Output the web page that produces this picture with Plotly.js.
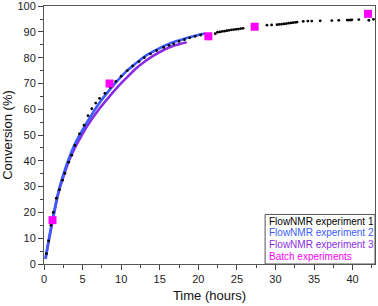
<!DOCTYPE html>
<html>
<head>
<meta charset="utf-8">
<script src="https://cdn.plot.ly/plotly-3.0.1.min.js"></script>
<style>html,body{margin:0;padding:0;background:#fff;}#chart{width:378px;height:306px;}</style>
</head>
<body>
<div id="chart"></div>
<script>
// FlowNMR experiment 1 (black dots)
const exp1Time = [0.3,0.6,0.9,1.2,1.6,2.0,2.4,2.7,3.2,3.6,4.0,4.6,5.2,5.7,6.2,6.7,7.2,7.9,8.6,9.3,10.0,10.8,11.5,12.3,13.0,13.8,14.6,15.5,16.2,16.8,17.5,18.2,18.9,19.6,20.3,22.2,22.5,22.8,23.1,23.4,23.7,24.0,24.3,24.6,24.9,25.2,25.5,25.8,28.9,29.5,30.2,30.5,30.8,31.1,31.4,31.7,32.0,32.3,32.6,32.8,33.6,34.2,34.7,35.8,37.3,38.2,39.3,39.5,39.7,39.9,40.8,42.1,42.7];
const exp1Conv = [4,9,15,20,25.5,28.8,32.5,35.2,39.5,42.2,46,50.5,53.8,57.5,60.2,62.4,64.2,66.2,68.5,70.8,72.8,75,76.8,78.5,80,81.5,82.8,84,84.8,85.4,86.3,87,87.7,88.3,88.8,89.3,89.9,90.0,90.2,90.3,90.5,90.6,90.8,90.9,91.0,91.1,91.3,91.4,92.6,92.7,92.8,92.9,93.0,93.1,93.2,93.4,93.5,93.6,93.7,93.8,94.1,94.2,94.2,94.3,94.4,94.5,94.6,94.6,94.6,94.7,94.8,94.5,94.9];
// FlowNMR experiment 2 (blue line)
const exp2Time = [0.2,0.5,1.0,1.5,2.0,2.7,3.3,4.0,5.0,6.0,7.2,8.5,9.5,10.7,12.0,13.2,14.2,15.5,17.0,18.5,20.0,20.9];
const exp2Conv = [2,7.5,15.5,23,29.5,36.5,41.5,46.5,52,57,62.5,67.5,71,74.8,78,80.8,82.5,84.5,86.3,87.6,88.8,89.4];
// FlowNMR experiment 3 (purple line)
const exp3Time = [0.2,0.5,1.0,1.5,2.0,2.7,3.3,4.0,5.0,6.0,7.2,8.5,9.5,10.7,12.0,13.2,14.2,15.5,17.0,18.5];
const exp3Conv = [2,7,15,22.5,29,35.5,40.5,45,50.5,55.3,60.3,65,68.5,72.2,76,78.8,80.8,83,84.8,86];
// Batch experiments (magenta squares)
const batchTime = [1.1,8.5,21.3,27.3,42.0];
const batchConv = [17,70,88.3,92,97];

const seriesNames = ["FlowNMR experiment 1","FlowNMR experiment 2","FlowNMR experiment 3","Batch experiments"];
const seriesColors = ["#000000","#3a5cff","#8a2be2","#ff00ff"];

const traces = [
  {x: exp3Time, y: exp3Conv, mode: "lines", line: {color: seriesColors[2], width: 2.6, shape: "spline"}, name: seriesNames[2]},
  {x: exp2Time, y: exp2Conv, mode: "lines", line: {color: seriesColors[1], width: 2.6, shape: "spline"}, name: seriesNames[1]},
  {x: exp1Time, y: exp1Conv, mode: "markers", marker: {color: seriesColors[0], size: 2.8}, name: seriesNames[0]},
  {x: batchTime, y: batchConv, mode: "markers", marker: {color: seriesColors[3], size: 8, symbol: "square"}, name: seriesNames[3]}
];

const legendY = [0.166, 0.121, 0.0745, 0.028];
const annotations = seriesNames.map((n, i) => ({
  text: n, xref: "paper", yref: "paper", x: 0.676, y: legendY[i],
  xanchor: "left", yanchor: "middle", showarrow: false, borderpad: 0,
  font: {family: "Liberation Sans, Arial, sans-serif", size: 10, color: seriesColors[i]}
}));

const layout = {
  width: 378, height: 306,
  margin: {l: 44, r: 3, t: 6, b: 42},
  paper_bgcolor: "#fff", plot_bgcolor: "#fff",
  showlegend: false,
  font: {family: "Liberation Sans, Arial, sans-serif", size: 11, color: "#222"},
  xaxis: {
    range: [0, 42.9], tickvals: [0,5,10,15,20,25,30,35,40],
    ticks: "outside", ticklen: 5, tickwidth: 1, tickcolor: "#444",
    minor: {dtick: 2.5, ticks: "outside", ticklen: 3, tickcolor: "#444", showgrid: false},
    showline: true, linecolor: "#555", linewidth: 1, mirror: true,
    showgrid: false, zeroline: false, ticklabeloverflow: "allow",
    title: {text: "Time (hours)", font: {size: 13, color: "#111"}, standoff: 6}
  },
  yaxis: {
    range: [0, 100.05], tickvals: [0,10,20,30,40,50,60,70,80,90,100],
    ticks: "outside", ticklen: 5, tickwidth: 1, tickcolor: "#444",
    minor: {dtick: 5, ticks: "outside", ticklen: 3, tickcolor: "#444", showgrid: false},
    showline: true, linecolor: "#555", linewidth: 1, mirror: true,
    showgrid: false, zeroline: false, ticklabeloverflow: "allow",
    title: {text: "Conversion (%)", font: {size: 13, color: "#111"}, standoff: 4}
  },
  shapes: [{type: "rect", xref: "paper", yref: "paper", x0: 0.668, x1: 1, y0: 0, y1: 0.192,
            line: {color: "#555", width: 1}, fillcolor: "rgba(255,255,255,1)", layer: "above"}],
  annotations: annotations
};

Plotly.newPlot("chart", traces, layout, {displayModeBar: false, staticPlot: true});
</script>
</body>
</html>
